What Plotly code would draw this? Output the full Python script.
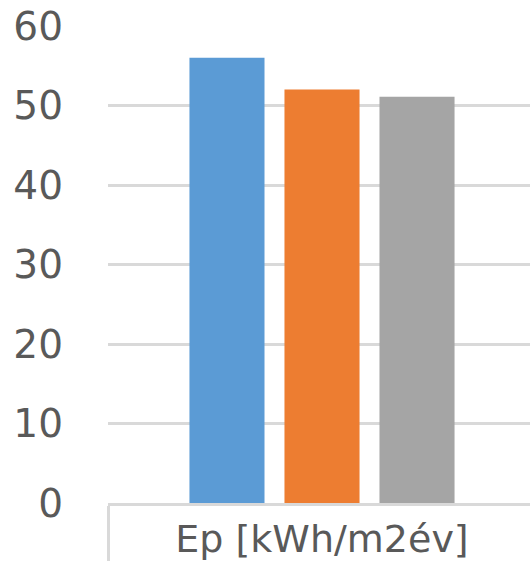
import plotly.graph_objects as go

# Primary energy demand, three variants
category = ["Ep [kWh/m2év]"]
series_values = [[56.0], [52.0], [51.1]]
series_colors = ["#5B9BD5", "#ED7D31", "#A5A5A5"]
y_ticks = [0, 10, 20, 30, 40, 50, 60]

GRID = "#D9D9D9"
TEXT = "#595959"
FONT = "DejaVu Sans"

fig = go.Figure()
for vals, col in zip(series_values, series_colors):
    fig.add_trace(go.Bar(x=category, y=vals, marker=dict(color=col, line=dict(width=0)),
                         showlegend=False))

fig.update_layout(
    width=530, height=561,
    margin=dict(l=108, r=0, t=26, b=58),
    paper_bgcolor="white", plot_bgcolor="white",
    barmode="group", bargap=0.334, bargroupgap=0.21,
    font=dict(family=FONT, color=TEXT),
)
fig.update_xaxes(
    range=[-0.5, 0.486],
    showline=True, linecolor=GRID, linewidth=3,
    ticks="outside", tickson="boundaries", ticklen=58, tickwidth=3, tickcolor=GRID,
    ticklabelstandoff=0,
    tickfont=dict(size=38, family=FONT, color=TEXT),
    showgrid=False, zeroline=False,
)
fig.update_yaxes(
    range=[0, 60], tickvals=y_ticks,
    showgrid=True, gridcolor=GRID, gridwidth=3,
    zeroline=False, showline=False, ticks="",
    ticklabelstandoff=44,
    tickfont=dict(size=39, family=FONT, color=TEXT),
)

fig.write_html("out.html")
